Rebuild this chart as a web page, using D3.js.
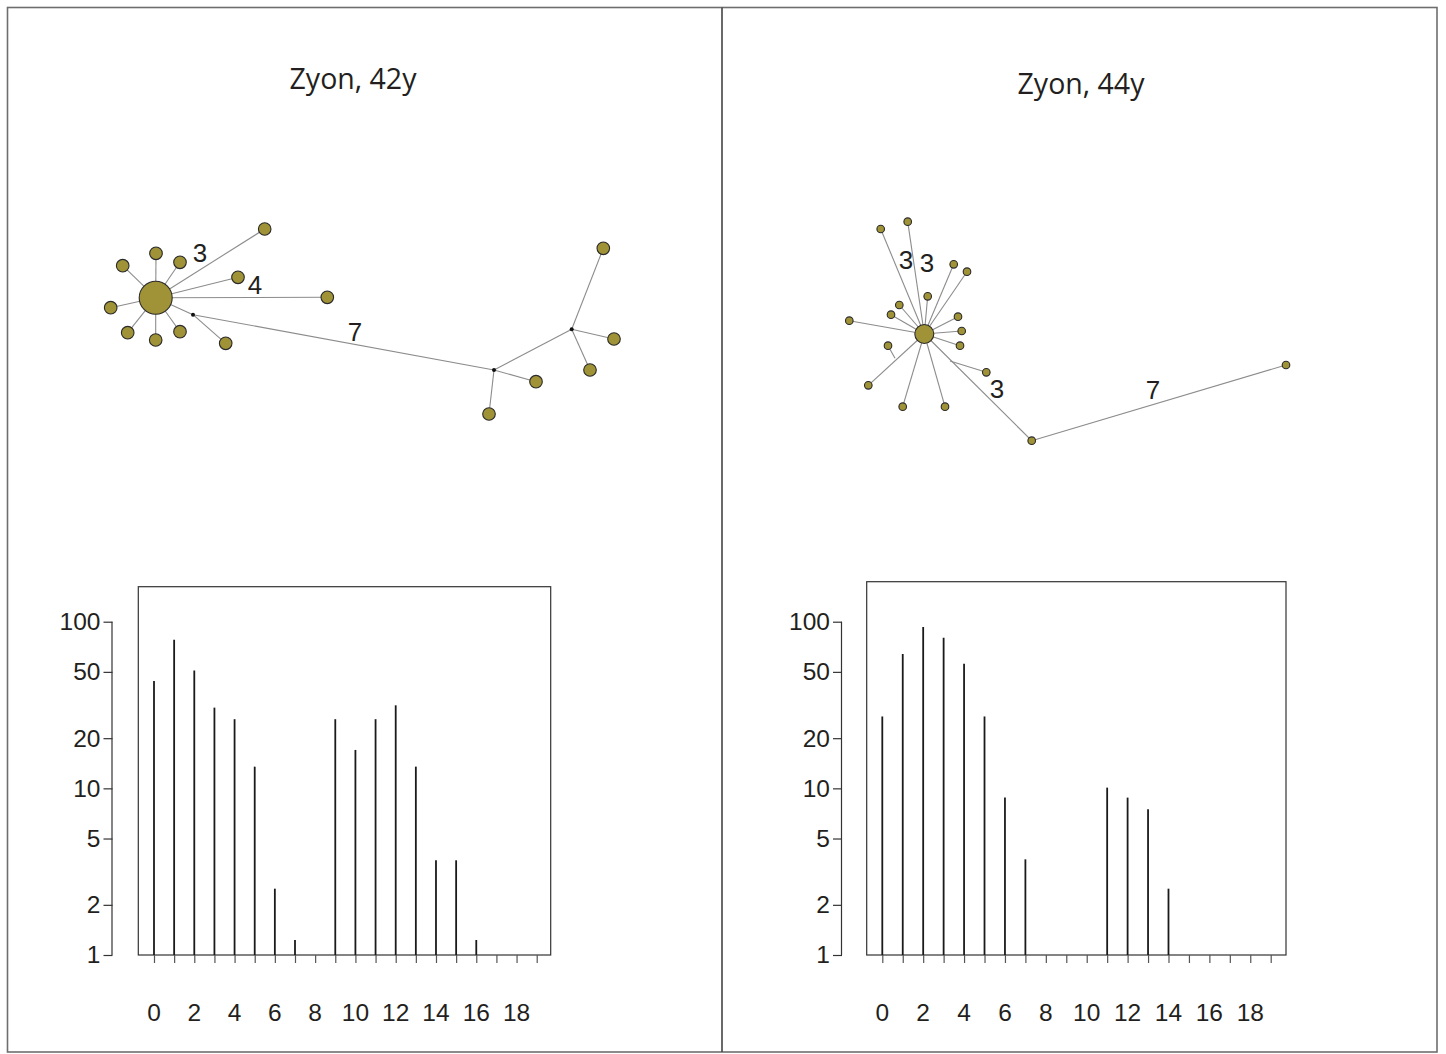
<!DOCTYPE html>
<html><head><meta charset="utf-8">
<script src="https://cdn.jsdelivr.net/npm/d3@7"></script>
<style>body{margin:0;background:#fff}svg{display:block}</style>
</head><body>
<script>
// ---------- DATA ----------
const titles = ["Zyon, 42y", "Zyon, 44y"];
const distances = d3.range(0, 20);
const xTickLabels = [0, 2, 4, 6, 8, 10, 12, 14, 16, 18];
const yTickValues = [1, 2, 5, 10, 20, 50, 100];
// frequency (log scale) per distance, null = no bar
const freq42 = [44, 78, 51, 30.5, 26, 13.5, 2.5, 1.23, null, 26, 17, 26, 31.5, 13.5, 3.7, 3.7, 1.23, null, null, null];
const freq44 = [27, 64, 93, 80, 56, 27, 8.8, 3.75, null, null, null, 10.1, 8.8, 7.5, 2.5, null, null, null, null, null];

// network 42y: nodes (layout units), kind: big/small/junction
const net42Nodes = [
  {id:"c", x:155.7, y:297.7, k:"big"},
  {id:"a1", x:122.7, y:265.7, k:"s"}, {id:"a2", x:156, y:253.3, k:"s"}, {id:"a3", x:180, y:262.3, k:"s"},
  {id:"a4", x:264.7, y:229, k:"s"}, {id:"a5", x:238, y:277.3, k:"s"}, {id:"a6", x:327.3, y:297.3, k:"s"},
  {id:"a7", x:110.7, y:307.7, k:"s"}, {id:"a8", x:127.7, y:332.7, k:"s"}, {id:"a9", x:155.7, y:340, k:"s"},
  {id:"a10", x:180, y:331.7, k:"s"}, {id:"j1", x:193, y:314.7, k:"j"}, {id:"a11", x:225.7, y:343.3, k:"s"},
  {id:"jA", x:494, y:370, k:"j"}, {id:"jB", x:571.7, y:329.3, k:"j"},
  {id:"b1", x:536, y:381.7, k:"s"}, {id:"b2", x:489, y:414, k:"s"},
  {id:"b3", x:603.3, y:248.3, k:"s"}, {id:"b4", x:614, y:339, k:"s"}, {id:"b5", x:590, y:370, k:"s"}
];
const net42Links = [
  ["c","a1"],["c","a2"],["c","a3"],["c","a4"],["c","a5"],["c","a6"],["c","a7"],["c","a8"],["c","a9"],["c","a10"],
  ["c","j1"],["j1","a11"],["j1","jA"],["jA","b1"],["jA","b2"],["jA","jB"],["jB","b3"],["jB","b4"],["jB","b5"]
];
const net42Labels = [{t:"3", x:200, y:253}, {t:"4", x:255, y:285}, {t:"7", x:355, y:331.7}];

const net44Nodes = [
  {id:"c", x:924.3, y:334, k:"big"},
  {id:"n1", x:880.7, y:229, k:"s"}, {id:"n2", x:907.7, y:221.7, k:"s"}, {id:"n3", x:953.7, y:264.3, k:"s"},
  {id:"n4", x:967, y:271.7, k:"s"}, {id:"n5", x:927.7, y:296.3, k:"s"}, {id:"n6", x:899.3, y:305, k:"s"},
  {id:"n7", x:891, y:314.7, k:"s"}, {id:"n8", x:849.3, y:320.7, k:"s"}, {id:"n9", x:958, y:316.7, k:"s"},
  {id:"n10", x:961.7, y:331, k:"s"}, {id:"n11", x:960, y:345.7, k:"s"}, {id:"n12", x:888, y:345.7, k:"s"},
  {id:"n13", x:868.3, y:385.3, k:"s"}, {id:"n14", x:902.7, y:406.7, k:"s"}, {id:"n15", x:945, y:406.7, k:"s"},
  {id:"n16", x:986.3, y:372.3, k:"s"}, {id:"n17", x:1031.7, y:440.7, k:"s"}, {id:"n18", x:1286, y:365, k:"s"},
  {id:"h1", x:895, y:358.3, k:"h"}, {id:"h2", x:950, y:361, k:"h"}
];
const net44Links = [
  ["c","n1"],["c","n2"],["c","n3"],["c","n4"],["c","n5"],["c","n6"],["c","n7"],["c","n8"],["c","n9"],["c","n10"],
  ["c","n11"],["c","n13"],["h1","n12"],["c","n14"],["c","n15"],["c","n17"],["h2","n16"],["n17","n18"]
];
const net44Labels = [{t:"3", x:906, y:260}, {t:"3", x:927, y:263}, {t:"3", x:997, y:389}, {t:"7", x:1153, y:390}];

// ---------- DRAW ----------
const W = 1446, H = 1054;
const svg = d3.select("body").append("svg").attr("width", W).attr("height", H);

// panel frames
svg.append("rect").attr("x", 7.5).attr("y", 7.5).attr("width", 1429.5).attr("height", 1044.5)
  .attr("fill", "none").attr("stroke", "#6e6e6e").attr("stroke-width", 1.6);
svg.append("line").attr("x1", 722).attr("x2", 722).attr("y1", 7.5).attr("y2", 1052)
  .attr("stroke", "#444").attr("stroke-width", 1.6);

const FONT_T = "'Open Sans', 'Noto Sans', sans-serif";
const FONT_N = "'Liberation Sans', Arial, sans-serif";

// titles
[[titles[0], 353, 89], [titles[1], 1081, 94]].forEach(([t, x, y]) => {
  svg.append("text").attr("x", x).attr("y", y).attr("text-anchor", "middle")
    .attr("font-family", FONT_T).attr("font-size", 28.5).attr("fill", "#231f20").text(t);
});

// networks
function drawNet(nodes, links, labels, opt) {
  const sx = d3.scaleLinear().domain([0, 1]).range([0, 1]);
  const sy = d3.scaleLinear().domain([0, 1]).range([0, 1]);
  const byId = new Map(nodes.map(d => [d.id, d]));
  const g = svg.append("g");
  g.selectAll("line").data(links).join("line")
    .attr("x1", d => sx(byId.get(d[0]).x)).attr("y1", d => sy(byId.get(d[0]).y))
    .attr("x2", d => sx(byId.get(d[1]).x)).attr("y2", d => sy(byId.get(d[1]).y))
    .attr("stroke", "#8c8c8c").attr("stroke-width", 1.1);
  g.selectAll("circle").data(nodes.filter(d => d.k !== "h")).join("circle")
    .attr("cx", d => sx(d.x)).attr("cy", d => sy(d.y))
    .attr("r", d => d.k === "big" ? opt.rBig : d.k === "j" ? 2 : opt.rSmall)
    .attr("fill", d => d.k === "j" ? "#111" : "#9f9237")
    .attr("stroke", d => d.k === "j" ? "none" : "#2a2a2a").attr("stroke-width", 1.1);
  g.selectAll("text").data(labels).join("text")
    .attr("x", d => sx(d.x)).attr("y", d => sy(d.y)).attr("dy", "0.35em")
    .attr("text-anchor", "middle").attr("font-family", FONT_N).attr("font-size", 26)
    .attr("fill", "#231f20").text(d => d.t);
}
drawNet(net42Nodes, net42Links, net42Labels, {rBig: 16.5, rSmall: 6.3});
drawNet(net44Nodes, net44Links, net44Labels, {rBig: 9.5, rSmall: 3.8});

// histograms
function drawHist(values, o) {
  const x = d3.scaleLinear().domain([0, 19]).range([o.x0, o.x19]);
  const y = d3.scaleLog().domain([1, 100]).range([955, 621.7]);
  const g = svg.append("g");
  // box
  g.append("rect").attr("x", o.bx0).attr("y", o.by0).attr("width", o.bx1 - o.bx0).attr("height", 955 - o.by0)
    .attr("fill", "none").attr("stroke", "#333").attr("stroke-width", 1.2);
  // y axis
  const ya = g.append("g").attr("transform", `translate(${o.ax},0)`)
    .call(d3.axisLeft(y).tickValues(yTickValues).tickFormat(d3.format("d")).tickSize(9).tickPadding(3));
  ya.select(".domain").attr("d", `M-0.5,${y(100)}V${y(1)}`).attr("stroke", "#333").attr("stroke-width", 1.2);
  ya.selectAll(".tick line").attr("stroke", "#333").attr("stroke-width", 1.2);
  ya.selectAll(".tick text").attr("font-family", FONT_N).attr("font-size", 24.5).attr("fill", "#231f20");
  // x axis
  const xa = g.append("g").attr("transform", "translate(0,955)")
    .call(d3.axisBottom(x).tickValues(distances).tickSize(8).tickFormat(""));
  xa.select(".domain").remove();
  xa.selectAll(".tick line").attr("stroke", "#555").attr("stroke-width", 1.2);
  g.selectAll(".xl").data(xTickLabels).join("text").attr("class", "xl")
    .attr("x", d => x(d)).attr("y", 1021).attr("text-anchor", "middle")
    .attr("font-family", FONT_N).attr("font-size", 24.5).attr("fill", "#231f20").text(d => d);
  // bars
  const data = values.map((v, i) => ({i, v})).filter(d => d.v != null);
  g.selectAll(".bar").data(data).join("line").attr("class", "bar")
    .attr("x1", d => x(d.i)).attr("x2", d => x(d.i))
    .attr("y1", y(1)).attr("y2", d => y(d.v))
    .attr("stroke", "#1a1a1a").attr("stroke-width", 1.8);
}
drawHist(freq42, {x0: 154, x19: 536.7, bx0: 138.3, bx1: 550.7, by0: 586.7, ax: 112.5});
drawHist(freq44, {x0: 882.3, x19: 1270.7, bx0: 866.7, bx1: 1286, by0: 581.7, ax: 842});
</script>
</body></html>
